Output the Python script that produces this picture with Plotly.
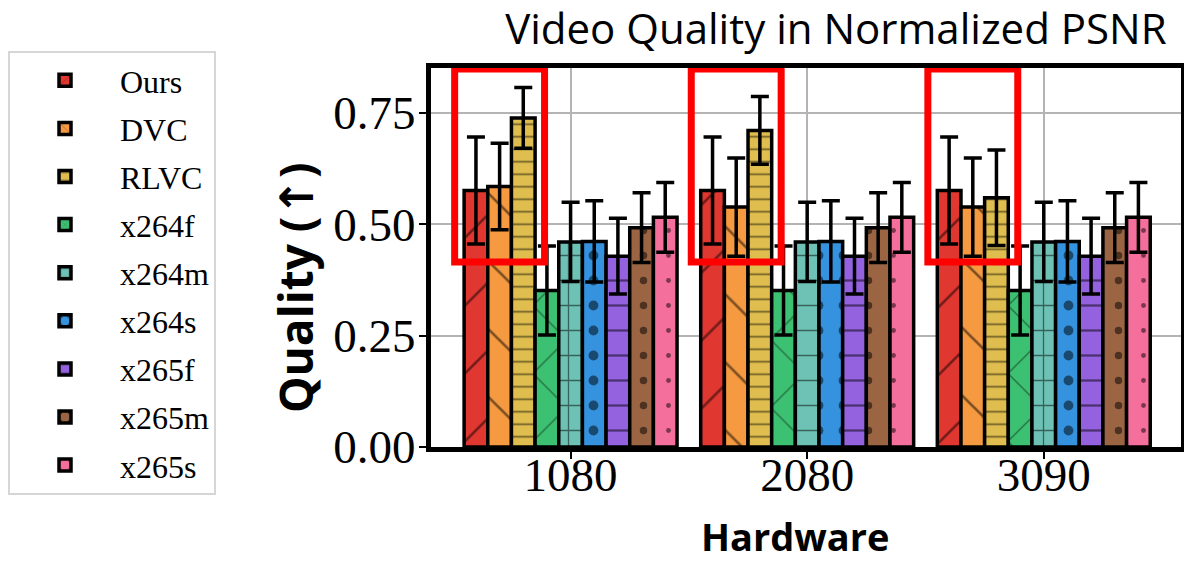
import plotly.graph_objects as go

# ---------------- data ----------------
hardware = ["1080", "2080", "3090"]
methods = ["Ours", "DVC", "RLVC", "x264f", "x264m", "x264s", "x265f", "x265m", "x265s"]

ours = [0.575, 0.575, 0.575]
ours_err = [0.12, 0.12, 0.12]
dvc = [0.584, 0.538, 0.538]
dvc_err = [0.097, 0.11, 0.11]
rlvc = [0.738, 0.710, 0.559]
rlvc_err = [0.068, 0.076, 0.107]
x264f = [0.351, 0.351, 0.351]
x264f_err = [0.100, 0.100, 0.100]
x264m = [0.460, 0.460, 0.460]
x264m_err = [0.089, 0.089, 0.089]
x264s = [0.461, 0.461, 0.461]
x264s_err = [0.091, 0.091, 0.091]
x265f = [0.428, 0.428, 0.428]
x265f_err = [0.085, 0.085, 0.085]
x265m = [0.492, 0.492, 0.492]
x265m_err = [0.078, 0.078, 0.078]
x265s = [0.515, 0.515, 0.515]
x265s_err = [0.078, 0.078, 0.078]

values = [ours, dvc, rlvc, x264f, x264m, x264s, x265f, x265m, x265s]
errors = [ours_err, dvc_err, rlvc_err, x264f_err, x264m_err, x264s_err,
          x265f_err, x265m_err, x265s_err]

# highlighted quality range around the learned codecs in each group
highlight_low = 0.415
highlight_high = 0.848

# ---------------- style ----------------
colors = ["#E13731", "#F59A41", "#DFBE4F", "#3CC071", "#6EC2B5",
          "#3592DF", "#9462DF", "#9B6544", "#F46F9B"]
patterns = [
    dict(shape="/", size=48, solidity=0.055),
    dict(shape="\\", size=48, solidity=0.055),
    dict(shape="-", size=12.5, solidity=0.14),
    dict(shape="x", size=48, solidity=0.05),
    dict(shape="+", size=25, solidity=0.1),
    dict(shape=".", size=25, solidity=0.12),
    dict(shape="-", size=25, solidity=0.09),
    dict(shape=".", size=25, solidity=0.07),
    dict(shape=".", size=25, solidity=0.03),
]

serif = "Liberation Serif"
sans = "Open Sans"

fig = go.Figure()
for name, vals, errs, col, pat in zip(methods, values, errors, colors, patterns):
    fig.add_trace(go.Bar(
        name=name, x=hardware, y=vals,
        legendgroup=name,
        marker=dict(color=col, line=dict(color="black", width=3.5),
                    pattern=dict(fgcolor="black", fillmode="overlay", **pat)),
        error_y=dict(type="data", array=errs, visible=True,
                     color="black", thickness=3.5, width=9),
    ))

for i, _ in enumerate(hardware):
    fig.add_shape(type="rect", xref="x", yref="y",
                  x0=i - 0.49, x1=i - 0.11, y0=highlight_low, y1=highlight_high,
                  line=dict(color="#FF0000", width=7), layer="above")

# axis titles
fig.add_annotation(text="<b>Hardware</b>", xref="paper", yref="paper",
                   x=(795 - 431) / 750, y=-(536 - 447) / 379,
                   xanchor="center", yanchor="middle", showarrow=False,
                   font=dict(family=sans, size=38, color="black"))
fig.add_annotation(text="<b>Quality (<span style='font-family:DejaVu Sans'>↑</span>)</b>",
                   xref="paper", yref="paper",
                   x=(295 - 431) / 750, y=(447 - 288) / 379, textangle=-90,
                   xanchor="center", yanchor="middle", showarrow=False,
                   font=dict(family=sans, size=46, color="black"))

fig.update_layout(
    width=1184, height=561,
    margin=dict(l=431, r=3, t=68, b=114, autoexpand=False),
    paper_bgcolor="white", plot_bgcolor="white",
    barmode="group", bargap=0.1, bargroupgap=0,
    title=dict(text="Video Quality in Normalized PSNR",
               font=dict(family=sans, size=42, color="black"),
               xref="container", x=0.706, xanchor="center",
               yref="container", y=0.974, yanchor="top"),
    legend=dict(font=dict(family=serif, size=32, color="black"),
                x=(8 - 431) / 750, xanchor="left", y=(447 - 51) / 379, yanchor="top",
                bgcolor="white", bordercolor="#D6D6D6", borderwidth=2,
                tracegroupgap=3.5, traceorder="grouped", itemwidth=100,
                maxheight=540),
    xaxis=dict(
        range=[-0.59, 2.58], automargin=False,
        showline=True, linecolor="black", linewidth=5, mirror=True,
        ticks="outside", ticklen=7, tickwidth=1.5, tickcolor="black",
        showgrid=True, gridcolor="#B4B4B4", gridwidth=1.5,
        tickfont=dict(family=serif, size=47, color="black"),
        ticklabelstandoff=-24,
        layer="above traces",
    ),
    yaxis=dict(
        range=[0, 0.85], automargin=False,
        tickvals=[0, 0.25, 0.5, 0.75], tickformat=".2f",
        showline=True, linecolor="black", linewidth=5, mirror=True,
        ticks="outside", ticklen=7, tickwidth=1.5, tickcolor="black",
        showgrid=True, gridcolor="#B4B4B4", gridwidth=1.5, zeroline=False,
        tickfont=dict(family=serif, size=47, color="black"),
        ticklabelstandoff=-6,
        layer="above traces",
    ),
)

fig.write_html("out.html", config={"displayModeBar": False},
               post_script="document.body.style.margin='0';")
